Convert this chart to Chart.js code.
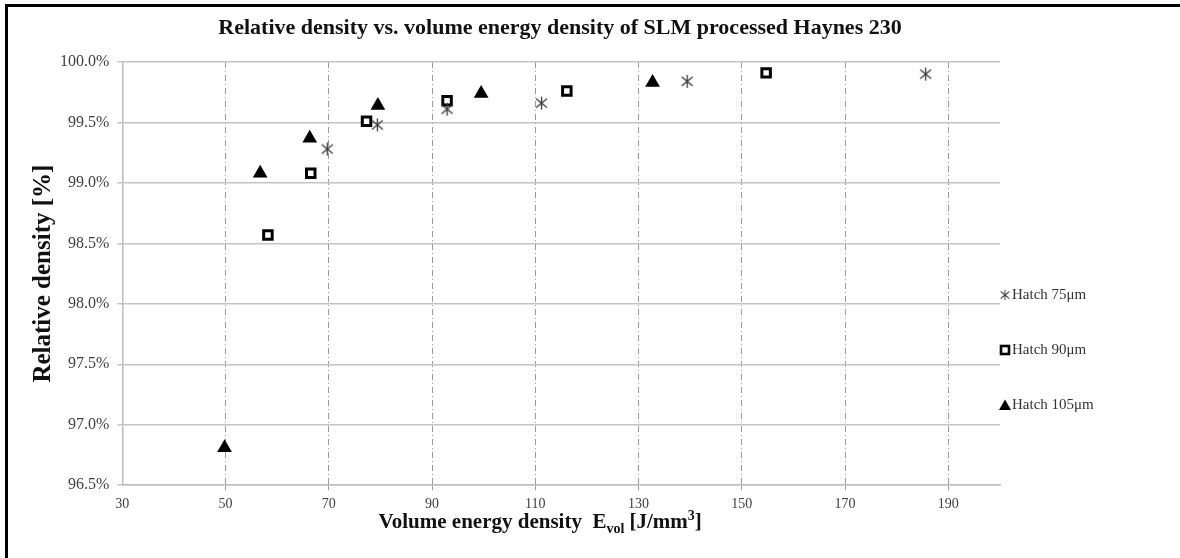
<!DOCTYPE html>
<html>
<head>
<meta charset="utf-8">
<script src="https://cdn.jsdelivr.net/npm/chart.js@4.4.1/dist/chart.umd.min.js"></script>
<style>
  html, body { margin: 0; padding: 0; background: #fff; }
  #wrap { position: relative; width: 1180px; height: 558px; }
  #frame { position: absolute; left: 5px; top: 4px; width: 1175px; height: 554px;
           border-left: 3px solid #000; border-top: 3px solid #000; box-sizing: border-box; pointer-events: none; }
</style>
</head>
<body>
<div id="wrap">
  <canvas id="densityChart" width="1180" height="558"></canvas>
  <div id="frame"></div>
</div>
<script>
// energy density [J/mm3] and relative density [%] per hatch distance
const energy75 = [69.7, 79.4, 92.9, 111.2, 139.4, 185.6];
const density75 = [99.28, 99.48, 99.61, 99.66, 99.84, 99.90];
const energy90 = [58.2, 66.5, 77.3, 92.9, 116.1, 154.7];
const density90 = [98.57, 99.08, 99.51, 99.68, 99.76, 99.91];
const energy105 = [49.8, 56.7, 66.3, 79.5, 99.5, 132.7];
const density105 = [96.81, 99.08, 99.37, 99.64, 99.74, 99.83];
const seriesNames = ['Hatch 75μm', 'Hatch 90μm', 'Hatch 105μm'];
const xTicks = [30, 50, 70, 90, 110, 130, 150, 170, 190];
const yTicks = [96.5, 97.0, 97.5, 98.0, 98.5, 99.0, 99.5, 100.0];

const chartTitle = 'Relative density vs. volume energy density of SLM processed Haynes 230';
const serif = "'Liberation Serif', 'Times New Roman', serif";

// six-armed asterisk marker
function makeAsterisk(size, color) {
  const c = document.createElement('canvas');
  c.width = size; c.height = size;
  const g = c.getContext('2d');
  g.strokeStyle = color;
  g.lineWidth = 1.3;
  g.beginPath();
  g.moveTo(size / 2, 1); g.lineTo(size / 2, size - 1);
  g.moveTo(2, 3); g.lineTo(size - 2, size - 3);
  g.moveTo(2, size - 3); g.lineTo(size - 2, 3);
  g.stroke();
  return c;
}
const asterisk = makeAsterisk(15, '#3a3a3a');

function points(xs, ys) {
  return xs.map((x, i) => ({x: x, y: ys[i]}));
}

// title, legend beside the plot, and x title with subscript / superscript
const extras = {
  id: 'extras',
  afterDraw(chart) {
    const ctx = chart.ctx;
    const area = chart.chartArea;
    ctx.save();

    // chart title
    ctx.font = 'bold 22px ' + serif;
    ctx.fillStyle = '#111';
    ctx.textAlign = 'center';
    ctx.textBaseline = 'middle';
    ctx.fillText(chartTitle, 560, 28);

    // legend
    const lx = area.right + 5;
    const ly0 = 295;
    ctx.font = '15px ' + serif;
    chart.data.datasets.forEach((ds, i) => {
      const y = ly0 + i * 55;
      if (i === 0) {
        ctx.drawImage(asterisk, lx - 6, y - 6, 12, 12);
      } else if (i === 1) {
        ctx.lineWidth = 2.6;
        ctx.strokeStyle = '#000';
        ctx.strokeRect(lx - 4, y - 4, 8, 8);
      } else {
        ctx.fillStyle = '#000';
        ctx.beginPath();
        ctx.moveTo(lx, y - 5.5);
        ctx.lineTo(lx + 6, y + 5);
        ctx.lineTo(lx - 6, y + 5);
        ctx.closePath();
        ctx.fill();
      }
      ctx.fillStyle = '#333';
      ctx.textAlign = 'left';
      ctx.fillText(ds.label, lx + 7, y);
    });

    // x axis title
    const big = 'bold 21px ' + serif;
    const small = 'bold 14px ' + serif;
    const parts = [
      {t: 'Volume energy density  E', f: big, dy: 0},
      {t: 'vol', f: small, dy: 5},
      {t: ' [J/mm', f: big, dy: 0},
      {t: '3', f: small, dy: -8},
      {t: ']', f: big, dy: 0}
    ];
    let total = 0;
    parts.forEach(p => { ctx.font = p.f; p.w = ctx.measureText(p.t).width; total += p.w; });
    let x = (area.left + area.right) / 2 - 21 - total / 2;
    const base = 528;
    ctx.fillStyle = '#111';
    ctx.textBaseline = 'alphabetic';
    parts.forEach(p => {
      ctx.font = p.f;
      ctx.fillText(p.t, x, base + p.dy);
      x += p.w;
    });
    ctx.restore();
  }
};

new Chart(document.getElementById('densityChart').getContext('2d'), {
  type: 'scatter',
  data: {
    datasets: [{
      label: seriesNames[0],
      data: points(energy75, density75),
      pointStyle: asterisk,
      pointRadius: 7
    }, {
      label: seriesNames[1],
      data: points(energy90, density90),
      pointStyle: 'rect',
      pointRadius: 6,
      backgroundColor: '#fff',
      borderColor: '#000',
      borderWidth: 3
    }, {
      label: seriesNames[2],
      data: points(energy105, density105),
      pointStyle: 'triangle',
      pointRadius: 8.5,
      backgroundColor: '#000',
      borderColor: '#000',
      borderWidth: 0
    }]
  },
  options: {
    responsive: false,
    animation: false,
    layout: { padding: { left: 14, right: 180, top: 62, bottom: 39 } },
    plugins: {
      legend: { display: false },
      tooltip: { enabled: false },
      title: { display: false }
    },
    scales: {
      x: {
        type: 'linear',
        min: 30,
        max: 200,
        afterBuildTicks: s => { s.ticks = xTicks.map(v => ({value: v})); },
        grid: {
          color: c => c.tick && c.tick.value === 30 ? 'rgba(0,0,0,0)' : '#9a9a9a',
          lineWidth: 1,
          tickLength: 5
        },
        border: { display: true, color: '#bdbdbd', width: 1.5, dash: [6, 3, 1, 3] },
        ticks: { color: '#404040', font: { family: serif, size: 14 }, padding: 6, maxRotation: 0 }
      },
      y: {
        min: 96.5,
        max: 100,
        afterBuildTicks: s => { s.ticks = yTicks.map(v => ({value: v})); },
        grid: { color: '#c4c4c4', lineWidth: 1.5, tickLength: 5 },
        border: { display: true, color: '#bdbdbd', width: 1.5 },
        ticks: {
          color: '#404040',
          font: { family: serif, size: 16 },
          padding: 8,
          callback: v => v.toFixed(1) + '%'
        },
        title: {
          display: true,
          text: 'Relative density [%]',
          color: '#111',
          font: { family: serif, size: 25, weight: 'bold' },
          padding: { top: 15, bottom: -7 }
        }
      }
    }
  },
  plugins: [extras]
});
</script>
</body>
</html>
